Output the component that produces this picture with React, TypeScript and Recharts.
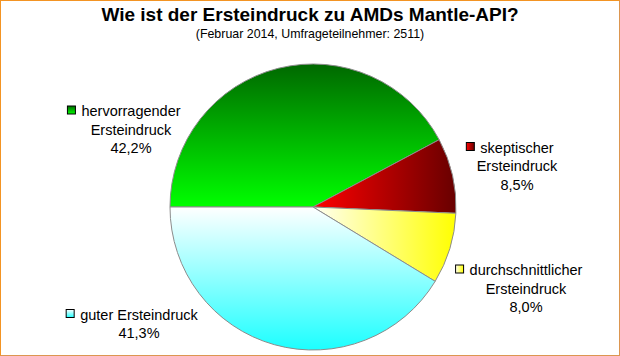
import React from "react";
import { PieChart, Pie, Cell } from "recharts";

const categories = [
  "hervorragender Ersteindruck",
  "skeptischer Ersteindruck",
  "durchschnittlicher Ersteindruck",
  "guter Ersteindruck",
];
const shares = [42.2, 8.5, 8.0, 41.3];
const title = "Wie ist der Ersteindruck zu AMDs Mantle-API?";
const subtitle = "(Februar 2014, Umfrageteilnehmer: 2511)";

// presentation settings
const gradients = [
  { id: "gGreen", dir: "v", from: "#006800", to: "#00ff00" },
  { id: "gRed", dir: "h", from: "#ff0000", to: "#680000" },
  { id: "gYellow", dir: "h", from: "#fffff4", to: "#ffff00" },
  { id: "gCyan", dir: "v", from: "#ffffff", to: "#1cffff" },
];
const labelAnchors = [
  { dx: -182, dy: -91, wrap: true },
  { dx: 204, dy: -54.5, wrap: true },
  { dx: 213, dy: 68, wrap: true },
  { dx: -174, dy: 112.5, wrap: false },
];

const FONT = '"Liberation Sans", Arial, sans-serif';
const LABEL_SIZE = 14.5;
const LINE_H = 18.5;

const data = categories.map((name, i) => ({ name, value: shares[i] }));

let ctx: CanvasRenderingContext2D | null = null;
function measure(text: string): number {
  if (!ctx) {
    const c = document.createElement("canvas");
    ctx = c.getContext("2d");
  }
  if (!ctx) return text.length * 7;
  ctx.font = `${LABEL_SIZE}px "Liberation Sans", Arial, sans-serif`;
  return ctx.measureText(text).width;
}

const fmt = (v: number) => v.toFixed(1).replace(".", ",") + "%";

function renderLabel(props: any) {
  const { cx, cy, index, value } = props;
  const a = labelAnchors[index];
  const name = categories[index];
  const lines = a.wrap ? name.split(" ") : [name];
  lines.push(fmt(value));
  const x = cx + a.dx;
  const y = cy + a.dy;
  const w0 = measure(lines[0]);
  const mx = x - w0 / 2 - 14;
  return (
    <g key={`lbl-${index}`}>
      <rect
        x={mx}
        y={y - 10}
        width={8}
        height={8}
        fill={`url(#${gradients[index].id})`}
        stroke="#000"
        strokeWidth={1}
      />
      <text
        x={x}
        y={y}
        textAnchor="middle"
        fontFamily={FONT}
        fontSize={LABEL_SIZE}
        fill="#000"
      >
        {lines.map((l, k) => (
          <tspan key={k} x={x} y={y + k * LINE_H}>
            {l}
          </tspan>
        ))}
      </text>
    </g>
  );
}

export default function App() {
  return (
    <div style={{ position: "relative", width: 620, height: 356, background: "#fff" }}>
      <style>{`body{margin:0;}`}</style>
      <svg width={0} height={0} style={{ position: "absolute" }}>
        <defs>
          {gradients.map((g) => (
            <linearGradient
              key={g.id}
              id={g.id}
              x1="0"
              y1="0"
              x2={g.dir === "h" ? "1" : "0"}
              y2={g.dir === "v" ? "1" : "0"}
            >
              <stop offset="0%" stopColor={g.from} />
              <stop offset="100%" stopColor={g.to} />
            </linearGradient>
          ))}
        </defs>
      </svg>
      <PieChart width={620} height={356} margin={{ top: 0, right: 0, bottom: 0, left: 0 }}>
        <Pie
          data={data}
          dataKey="value"
          nameKey="name"
          cx={313}
          cy={207}
          outerRadius={143}
          startAngle={180}
          endAngle={-180}
          isAnimationActive={false}
          label={renderLabel}
          labelLine={false}
          stroke="#8c8c8c"
          strokeWidth={1}
        >
          {data.map((d, i) => (
            <Cell key={d.name} fill={`url(#${gradients[i].id})`} stroke="#8c8c8c" strokeWidth={1} />
          ))}
        </Pie>
      </PieChart>
      <svg
        width={620}
        height={356}
        style={{ position: "absolute", left: 0, top: 0, pointerEvents: "none" }}
      >
        <text x={310} y={21} textAnchor="middle" fontFamily={FONT} fontWeight="bold" fontSize={19} fill="#000">
          {title}
        </text>
        <text x={310} y={38} textAnchor="middle" fontFamily={FONT} fontSize={12.4} fill="#000">
          {subtitle}
        </text>
      </svg>
      <div
        style={{
          position: "absolute",
          left: 0,
          top: 0,
          width: 620,
          height: 356,
          boxSizing: "border-box",
          borderTop: "1px solid #f39423",
          borderLeft: "1px solid #f39423",
          borderRight: "1px solid #dc9650",
          borderBottom: "1px solid #dc9650",
          pointerEvents: "none",
        }}
      />
    </div>
  );
}
